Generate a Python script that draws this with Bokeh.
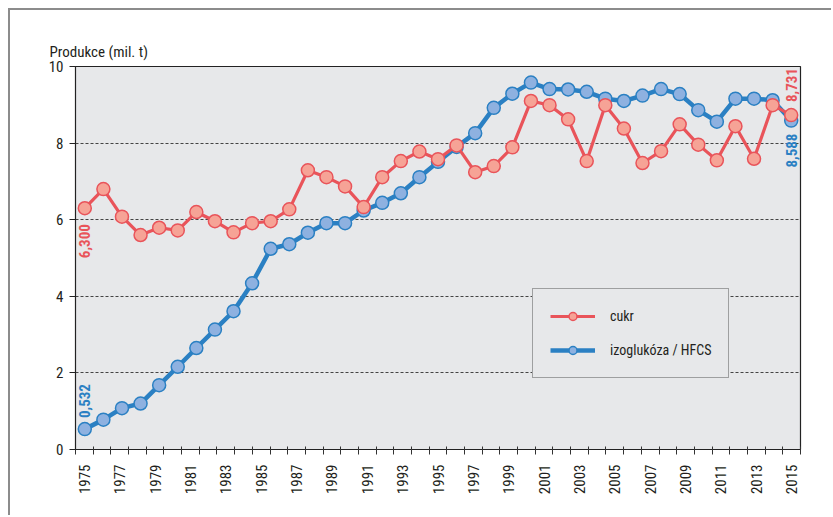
import math
from bokeh.plotting import figure
from bokeh.models import Range1d, FixedTicker, Legend, LegendItem, ColumnDataSource
from bokeh.core.properties import value
from bokeh.embed import file_html
from bokeh.resources import INLINE

# ---- data ----
axis_years = list(range(1975, 2016))
cukr = [6.300, 6.80, 6.08, 5.60, 5.79, 5.72, 6.20, 5.96, 5.67, 5.91,
        5.96, 6.27, 7.29, 7.11, 6.87, 6.33, 7.11, 7.53, 7.78, 7.58,
        7.94, 7.24, 7.40, 7.89, 9.10, 8.99, 8.62, 7.53, 8.99, 8.38,
        7.48, 7.79, 8.49, 7.96, 7.55, 8.44, 7.59, 8.99, 8.731]
hfcs = [0.532, 0.78, 1.08, 1.20, 1.68, 2.16, 2.65, 3.13, 3.61, 4.34,
        5.24, 5.36, 5.66, 5.91, 5.91, 6.24, 6.44, 6.69, 7.11, 7.51,
        7.90, 8.26, 8.92, 9.29, 9.58, 9.41, 9.40, 9.34, 9.16, 9.10,
        9.24, 9.41, 9.28, 8.86, 8.56, 9.16, 9.16, 9.12, 8.588]
y_ticks = [0, 2, 4, 6, 8, 10]
series_names = ["cukr", "izoglukóza / HFCS"]
y_title = "Produkce (mil. t)"

FONT = "'Roboto Condensed', 'Liberation Sans Narrow', 'DejaVu Sans Condensed', Roboto, sans-serif"
RED_LINE, RED_FILL = "#e9545a", "#f6a396"
BLUE_LINE, BLUE_FILL = "#2b80c3", "#8eb1e0"
TXT = "#231f20"
BG = "#e7e8ea"

n = len(cukr)
idx = list(range(n))

p = figure(width=823, height=507, output_backend="svg", toolbar_location=None,
           x_range=Range1d(axis_years[0] - 0.5, axis_years[-1] + 0.5),
           y_range=Range1d(0, 10),
           min_border_left=65, min_border_top=56, min_border_right=33, min_border_bottom=68)
p.styles = {"border-top": "2px solid #8c8c8c", "border-left": "2px solid #8c8c8c",
            "margin-top": "8px", "margin-left": "8px"}
p.extra_x_ranges = {"pts": Range1d(-0.5, n - 0.5)}

p.background_fill_color = BG
p.border_fill_color = "white"
p.outline_line_color = "#222222"
p.outline_line_width = 1.2

# title
p.title.text = y_title
p.title.align = "left"
p.title.offset = -26
p.title.text_font = FONT
p.title.text_font_size = "15px"
p.title.text_font_style = "normal"
p.title.text_color = TXT
p.title.standoff = 12

# axes
xa = p.xaxis[0]
xa.ticker = FixedTicker(ticks=[y for y in axis_years if y % 2 == 1],
                        minor_ticks=[y - 0.5 for y in axis_years] + [axis_years[-1] + 0.5])
xa.major_tick_in = 0
xa.major_tick_out = 0
xa.minor_tick_in = 3
xa.minor_tick_out = 5
xa.minor_tick_line_color = "#333333"
xa.major_label_orientation = math.pi / 2
xa.major_label_standoff = 10
xa.major_label_text_font = FONT
xa.major_label_text_font_size = "15px"
xa.major_label_text_color = TXT
xa.axis_line_color = "#222222"

ya = p.yaxis[0]
ya.ticker = FixedTicker(ticks=y_ticks)
ya.major_tick_in = 0
ya.major_tick_out = 6
ya.minor_tick_line_color = None
ya.major_label_standoff = 6
ya.major_label_text_font = FONT
ya.major_label_text_font_size = "15px"
ya.major_label_text_color = TXT
ya.axis_line_color = "#222222"
ya.major_tick_line_color = "#222222"

p.xgrid.visible = False
p.ygrid.ticker = FixedTicker(ticks=y_ticks[1:-1])
p.ygrid.grid_line_color = "#444444"
p.ygrid.grid_line_dash = "3 2"
p.ygrid.grid_line_width = 1

src = ColumnDataSource(dict(i=idx, cukr=cukr, hfcs=hfcs))

bl = p.line("i", "hfcs", source=src, x_range_name="pts", line_color=BLUE_LINE, line_width=4.5)
bs = p.scatter("i", "hfcs", source=src, x_range_name="pts", size=13,
               fill_color=BLUE_FILL, line_color=BLUE_LINE, line_width=1.5)
rl = p.line("i", "cukr", source=src, x_range_name="pts", line_color=RED_LINE, line_width=3.2)
rs = p.scatter("i", "cukr", source=src, x_range_name="pts", size=13,
               fill_color=RED_FILL, line_color=RED_LINE, line_width=1.5)


def fmt(v):
    return f"{v:.3f}".replace(".", ",")


def vlabel(i, v, color, align, yoff):
    p.text(x=[i], y=[v], text=[fmt(v)], x_range_name="pts", angle=math.pi / 2,
           text_align=align, text_baseline="middle", y_offset=yoff,
           text_font=value(FONT), text_font_style="bold", text_font_size="15px",
           text_color=color)


vlabel(0, cukr[0], RED_LINE, "right", 16)
vlabel(0, hfcs[0], BLUE_LINE, "left", -11)
vlabel(n - 1, cukr[-1], RED_LINE, "left", -13)
vlabel(n - 1, hfcs[-1], BLUE_LINE, "right", 13)

legend = Legend(items=[LegendItem(label=series_names[0], renderers=[rl, rs]),
                       LegendItem(label=series_names[1], renderers=[bl, bs])],
                location=(457, 71), orientation="vertical")
legend.background_fill_color = BG
legend.background_fill_alpha = 1
legend.border_line_color = "#555555"
legend.border_line_width = 1.5
legend.padding = 17
legend.margin = 0
legend.spacing = 14
legend.glyph_width = 45
legend.glyph_height = 20
legend.label_standoff = 15
legend.label_text_font = FONT
legend.label_text_font_size = "14px"
legend.label_text_color = TXT
p.add_layout(legend)

open("out.html", "w").write(file_html(p, INLINE))
